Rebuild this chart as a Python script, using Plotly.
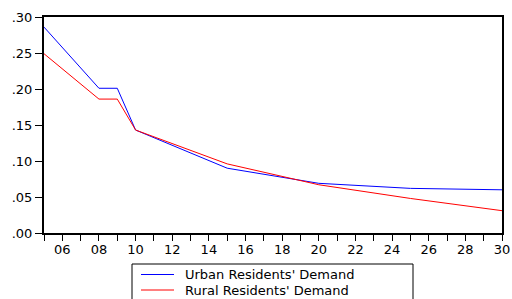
import plotly.graph_objects as go

years = [2005, 2008, 2009, 2010, 2015, 2020, 2025, 2030]
urban = [0.286, 0.201, 0.201, 0.143, 0.090, 0.069, 0.062, 0.060]
rural = [0.249, 0.186, 0.186, 0.143, 0.096, 0.067, 0.048, 0.031]

series_names = ["Urban Residents' Demand", "Rural Residents' Demand"]
series_colors = ["#0000ff", "#ff0000"]

x_tickvals = list(range(2006, 2031, 2))
x_ticktext = [f"{v % 100:02d}" for v in x_tickvals]
y_tickvals = [0.0, 0.05, 0.10, 0.15, 0.20, 0.25, 0.30]
y_ticktext = [".00", ".05", ".10", ".15", ".20", ".25", ".30"]

W, H = 512, 299
L, R, T, B = 44, 10, 17, 66
pw, ph = W - L - R, H - T - B


def px_x(px):
    return (px - L) / pw


def px_y(py):
    return (H - B - py) / ph


fig = go.Figure()
for name, vals, col in zip(series_names, [urban, rural], series_colors):
    fig.add_trace(go.Scatter(x=years, y=vals, mode="lines", name=name,
                             line=dict(color=col, width=1), showlegend=False))

FONT = "DejaVu Sans, Liberation Sans, Arial, sans-serif"

# legend drawn in the bottom margin (box runs off the bottom edge like the reference)
shapes = [dict(type="rect", xref="paper", yref="paper",
               x0=px_x(132), x1=px_x(413), y0=px_y(305), y1=px_y(264),
               line=dict(color="black", width=1), fillcolor="white", layer="above")]
annotations = []
for i, (name, col) in enumerate(zip(series_names, series_colors)):
    yy = 274.5 + i * 15.5
    shapes.append(dict(type="line", xref="paper", yref="paper",
                       x0=px_x(141), x1=px_x(174), y0=px_y(yy), y1=px_y(yy),
                       line=dict(color=col, width=1)))
    annotations.append(dict(xref="paper", yref="paper", x=px_x(184), y=px_y(yy),
                            text=name, showarrow=False, xanchor="left", yanchor="middle",
                            borderpad=0,
                            font=dict(family=FONT, size=13, color="black")))

fig.update_layout(
    width=W, height=H,
    margin=dict(l=L, r=R, t=T, b=B),
    paper_bgcolor="white", plot_bgcolor="white",
    font=dict(family=FONT, size=13, color="black"),
    showlegend=False,
    shapes=shapes, annotations=annotations,
)
fig.update_xaxes(range=[2005, 2030], tickvals=x_tickvals, ticktext=x_ticktext,
                 ticks="outside", ticklen=6, tickwidth=1, tickcolor="black",
                 minor=dict(dtick=1, tick0=2005, ticks="outside", ticklen=6, tickcolor="black", showgrid=False),
                 showline=True, linecolor="black", linewidth=2, mirror=True,
                 showgrid=False, zeroline=False, automargin=False, ticklabelstandoff=-3)
fig.update_yaxes(range=[0, 0.30], tickvals=y_tickvals, ticktext=y_ticktext,
                 ticks="outside", ticklen=7, tickwidth=1, tickcolor="black",
                 showline=True, linecolor="black", linewidth=2, mirror=True,
                 showgrid=False, zeroline=False, automargin=False)

fig.write_html("out.html", config={"displayModeBar": False},
               post_script="document.body.style.margin='0';document.documentElement.style.overflow='hidden';")
